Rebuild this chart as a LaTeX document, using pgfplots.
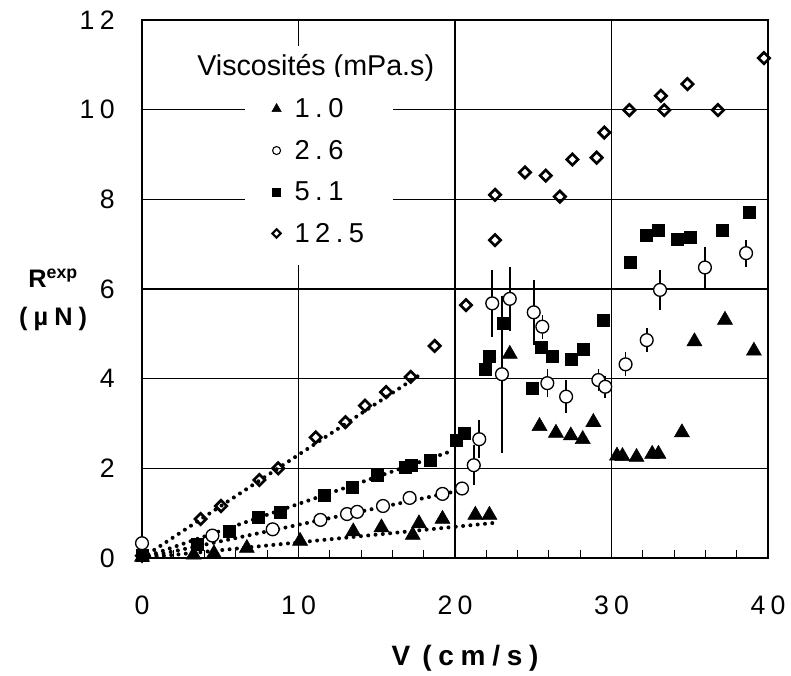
\documentclass[border=0pt]{standalone}
\usepackage{pgfplots}
\pgfplotsset{compat=1.18}
\usepackage{fontspec}
\setmainfont{Liberation Sans}
\newfontfamily\spaced[LetterSpace=24]{Liberation Sans}
\newfontfamily\tickspaced[LetterSpace=20]{Liberation Sans}
\newfontfamily\legspaced[LetterSpace=20]{Liberation Sans}

\begin{document}
\begin{tikzpicture}
\begin{axis}[
    width=469.5pt, height=403.5pt, scale only axis,
    xmin=0, xmax=40, ymin=0, ymax=12,
    xtick={0,10,...,40}, ytick={0,2,...,12},
    minor x tick num=4,
    grid=major,
    major grid style={black, line width=0.8pt},
    axis line style={line width=1pt},
    xtick pos=left, ytick pos=left,
    major tick length=0pt, minor tick length=6pt,
    minor tick style={black, line width=0.8pt},
    tick align=inside,
    clip=false,
    /pgf/number format/assume math mode=true,
    font=\fontsize{20}{24}\selectfont,
    ticklabel style={font=\fontsize{20}{24}\selectfont\tickspaced},
    xticklabel style={yshift=-25pt},
    yticklabel style={xshift=-17pt},
    xlabel={\bfseries\spaced V\hspace{9pt}(cm/s)},
    xlabel style={at={(axis description cs:0.516,0)}, anchor=center, yshift=-75pt, font=\fontsize{21}{25}\selectfont},
    ylabel={\bfseries R\textsuperscript{exp}\\\bfseries\spaced (µN)},
    ylabel style={rotate=-90, align=center, at={(axis description cs:-0.142,0.48)}, anchor=center, font=\fontsize{19}{28.5}\selectfont},
    legend style={draw=none, fill=white, at={(axis description cs:0.1646,0.8945)}, anchor=north west,
        font=\fontsize{20.5}{24}\selectfont\legspaced, row sep=11.4pt, inner xsep=20pt, inner ysep=14pt,
        cells={anchor=west},
        /tikz/every odd column/.append style={column sep=8pt}},
    legend image code/.code={\draw[#1] plot coordinates {(0pt,0pt)};},
]

% fits (dotted)
\addplot[forget plot, black, line width=3pt, line cap=round, dash pattern=on 0pt off 5.5pt]
    coordinates {(0,0) (17.9,4.12)};
\addplot[forget plot, black, line width=3pt, line cap=round, dash pattern=on 0pt off 5.5pt]
    coordinates {(0,0) (19.9,2.40)};
\addplot[forget plot, black, line width=3pt, line cap=round, dash pattern=on 0pt off 5.5pt]
    coordinates {(0,0) (20.5,1.52)};
\addplot[forget plot, black, line width=3pt, line cap=round, dash pattern=on 0pt off 5.5pt]
    coordinates {(0,0) (22.4,0.78)};

% 12.5 mPa.s
\addplot[forget plot, only marks, mark=square, mark size=3pt, mark options={rotate=45, fill=white, draw=black, line width=2pt}]
    coordinates {
    (0,0.05) (3.75,0.87) (5.05,1.16) (7.5,1.74) (8.7,2.0) (11.1,2.69) (13.0,3.03)
    (14.25,3.4) (15.6,3.7) (17.17,4.04) (18.7,4.73) (20.7,5.64) (22.56,7.09)
    (22.56,8.10) (24.47,8.60) (25.8,8.53) (26.7,8.06) (27.5,8.89) (29.05,8.93)
    (29.54,9.49) (31.14,9.99) (33.16,10.31) (33.37,9.99) (34.85,10.57)
    (36.8,9.99) (39.74,11.15)
    };

% 5.1 mPa.s
\addplot[forget plot, only marks, mark=square*, mark size=4.5pt, black]
    coordinates {
    (0,0.05) (3.5,0.3) (5.6,0.59) (7.45,0.9) (8.85,1.02) (11.65,1.4) (13.45,1.58)
    (15.04,1.85) (16.8,2.02) (17.2,2.07) (18.45,2.19) (20.1,2.63) (20.6,2.78)
    (21.96,4.22) (22.2,4.49) (23.1,5.24) (24.95,3.79) (25.5,4.70) (26.2,4.49)
    (27.45,4.44) (28.2,4.66) (29.5,5.31) (31.2,6.60) (32.2,7.20) (33.0,7.32)
    (34.2,7.11) (35.06,7.15) (37.1,7.32) (38.8,7.71)
    };

% 1.0 mPa.s
\addplot[forget plot, only marks, mark=triangle*, mark size=6.5pt, black]
    coordinates {
    (0,0.02) (3.3,0.07) (4.6,0.1) (6.7,0.22) (10.1,0.38) (13.5,0.59) (15.3,0.68)
    (17.3,0.51) (17.7,0.77) (19.2,0.87) (21.3,0.96) (22.2,0.96) (23.5,4.55)
    (25.4,2.94) (26.45,2.79) (27.4,2.73) (28.16,2.65) (28.84,3.03) (30.35,2.28)
    (30.7,2.27) (31.6,2.25) (32.6,2.32) (33.0,2.32) (34.5,2.80) (35.3,4.83)
    (37.25,5.31) (39.1,4.62)
    };

% 2.6 mPa.s, with error bars
\addplot[forget plot, only marks, mark=*, mark size=4.8pt, mark options={fill=white, draw=black, line width=1pt},
    error bars/.cd, y dir=both, y explicit,
    error bar style={black, line width=1.2pt},
    error mark options={black, line width=1.2pt, mark size=5pt}]
    table[x=x, y=y, y error=e] {
    x      y     e
    0      0.33  0
    4.5    0.50  0
    8.35   0.64  0
    11.4   0.85  0
    13.1   0.98  0
    13.75  1.03  0
    15.4   1.16  0
    17.1   1.34  0
    19.2   1.43  0
    20.45  1.55  0
    21.2   2.07  0.30
    21.55  2.65  0.28
    22.38  5.68  0.60
    23.0   4.10  1.60
    23.5   5.78  0.57
    25.03  5.48  0.58
    25.58  5.16  0.12
    25.9   3.90  0.17
    27.1   3.60  0.22
    29.16  3.97  0.10
    29.6   3.82  0.10
    30.9   4.32  0.12
    32.25  4.86  0.12
    33.1   5.98  0.30
    35.97  6.48  0.30
    38.6   6.80  0.15
    };

% legend
\addlegendimage{only marks, mark=triangle*, mark size=4pt, black}
\addlegendentry{1.0}
\addlegendimage{only marks, mark=*, mark size=3pt, mark options={fill=white, draw=black, line width=0.8pt}}
\addlegendentry{2.6}
\addlegendimage{only marks, mark=square*, mark size=3pt, black}
\addlegendentry{5.1}
\addlegendimage{only marks, mark=square, mark size=2.2pt, mark options={rotate=45, fill=white, draw=black, line width=1.6pt}}
\addlegendentry{12.5}

\node[anchor=west, fill=white, inner xsep=3pt, inner ysep=6pt, font=\fontsize{21.5}{25}\selectfont]
    at (axis description cs:0.0815,0.911) {Viscosités (mPa.s)};
\end{axis}
\pgfresetboundingbox
\path ([shift={(-106.5pt,-87.75pt)}]current axis.south west) rectangle ([shift={(486.75pt,418.5pt)}]current axis.south west);
\end{tikzpicture}
\end{document}
